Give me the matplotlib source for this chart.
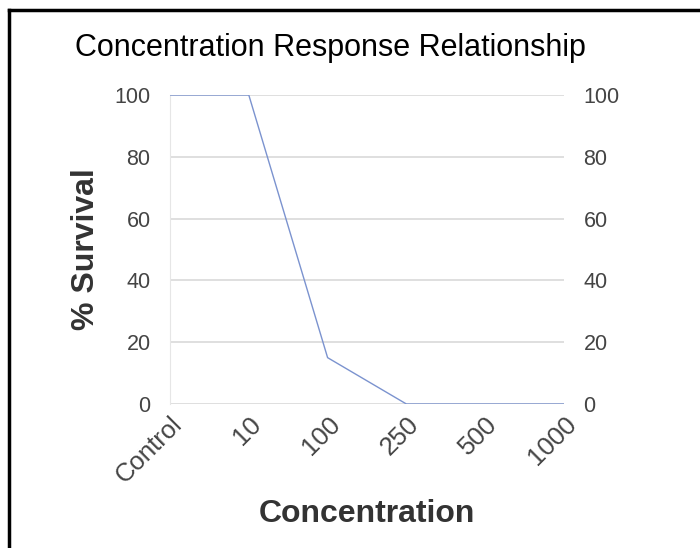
"""Concentration response line chart with a dual y-axis."""

import matplotlib.pyplot as plt
from matplotlib.lines import Line2D

plt.rcParams["font.family"] = ["Liberation Sans", "DejaVu Sans"]

concentrations = ["Control", "10", "100", "250", "500", "1000"]
survival = [100, 100, 15, 0, 0, 0]
y_ticks = [0, 20, 40, 60, 80, 100]

W, H = 700, 548
fig = plt.figure(figsize=(W / 100, H / 100), dpi=100)
ax = fig.add_axes([170 / W, 1 - 404 / H, 394 / W, 309 / H])

x = range(len(concentrations))
ax.plot(x, survival, color="#7b93cf", lw=1.0, zorder=3)

ax.set_xlim(0, len(concentrations) - 1)
ax.set_ylim(0, 100)
ax.set_yticks(y_ticks)
ax.set_xticks(list(x))
ax.set_xticklabels(concentrations, rotation=45, ha="right", rotation_mode="anchor")
ax.grid(axis="y", color="#d9d9d9", lw=1.2)
ax.set_axisbelow(True)

for side in ("top", "right", "bottom"):
    ax.spines[side].set_visible(False)
ax.spines["left"].set_color("#e6e6e6")

tick_size = 15.5
ax.tick_params(axis="y", length=0, labelsize=tick_size, labelcolor="#444444", pad=14)
ax.tick_params(axis="x", length=0, labelsize=18.5, labelcolor="#444444", pad=6)

ax2 = ax.twinx()
ax2.set_ylim(0, 100)
ax2.set_yticks(y_ticks)
for side in ("top", "right", "bottom", "left"):
    ax2.spines[side].set_visible(False)
ax2.tick_params(axis="y", length=0, labelsize=tick_size, labelcolor="#444444", pad=14)

ax.set_ylabel("% Survival", fontsize=23, fontweight="bold", color="#333333", labelpad=10)
ax.set_xlabel("Concentration", fontsize=23, fontweight="bold", color="#333333", labelpad=8)

fig.text(75 / W, 1 - 48 / H, "Concentration Response Relationship",
         fontsize=22, color="#000000", va="center", ha="left")

# black frame on top and left edges
fig.add_artist(Line2D([9 / W, 1], [1 - 10 / H, 1 - 10 / H], color="black", lw=2.5,
                      transform=fig.transFigure))
fig.add_artist(Line2D([9 / W, 9 / W], [0, 1 - 10 / H], color="black", lw=2.5,
                      transform=fig.transFigure))

fig.savefig("out.png", dpi=100)
